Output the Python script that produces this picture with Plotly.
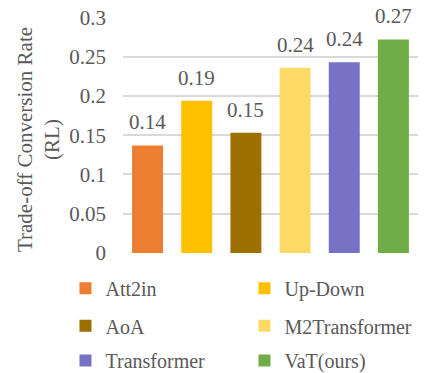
import plotly.graph_objects as go

# Trade-off conversion rate (RL) per captioning model
models = ["Att2in", "Up-Down", "AoA", "M2Transformer", "Transformer", "VaT(ours)"]
rates = [0.137, 0.194, 0.153, 0.236, 0.243, 0.272]
colors = ["#ED7D31", "#FFC000", "#9C7000", "#FFD966", "#7872C6", "#70AD47"]
y_ticks = [0, 0.05, 0.1, 0.15, 0.2, 0.25, 0.3]

FONT = "Liberation Serif"
GREY = "#595959"
FS = 21

# legend rows: two entries per row, three rows below the plot
legend_names = ["legend", "legend2", "legend3"]
legend_rows_y = [-0.149, -0.308, -0.455]

fig = go.Figure()
for i, (m, v, c) in enumerate(zip(models, rates, colors)):
    fig.add_trace(go.Bar(
        x=[m], y=[v], name=m,
        marker=dict(color=c, line=dict(width=0)),
        width=0.63,
        legend=legend_names[i // 2],
        hoverinfo="skip",
    ))
    fig.add_annotation(
        x=m, y=v, text=f"{v:.2f}", showarrow=False,
        xanchor="center", yanchor="bottom", yshift=9,
        font=dict(family=FONT, size=FS, color=GREY),
    )

# rotated two-line axis title
fig.add_annotation(
    xref="paper", yref="paper", x=-0.287, y=0.48,
    text="Trade-off Conversion Rate<br>(RL)", textangle=-90,
    showarrow=False, xanchor="center", yanchor="middle",
    font=dict(family=FONT, size=FS, color=GREY),
)

legend_common = dict(
    orientation="h", xanchor="left", yanchor="middle",
    x=-0.195, entrywidth=134, entrywidthmode="pixels",
    font=dict(family=FONT, size=20, color=GREY),
    bgcolor="rgba(0,0,0,0)", itemclick=False, itemdoubleclick=False,
)

fig.update_layout(
    width=430, height=373,
    margin=dict(l=123, r=12, t=17, b=120, autoexpand=False),
    paper_bgcolor="white", plot_bgcolor="white",
    barmode="overlay",
    showlegend=True,
    legend=dict(y=legend_rows_y[0], **legend_common),
    legend2=dict(y=legend_rows_y[1], **legend_common),
    legend3=dict(y=legend_rows_y[2], **legend_common),
    font=dict(family=FONT, size=FS, color=GREY),
    xaxis=dict(
        categoryorder="array", categoryarray=models,
        range=[-0.5, 5.5], showticklabels=False, showgrid=False,
        zeroline=False, showline=False, ticks="",
    ),
    yaxis=dict(
        range=[0, 0.3005], tickvals=y_ticks,
        ticktext=[f"{t:g}" for t in y_ticks],
        showgrid=True, gridcolor="#D9D9D9", gridwidth=1.6,
        zeroline=False, showline=False, ticks="",
        ticklabelstandoff=16,
        tickfont=dict(family=FONT, size=FS, color=GREY),
    ),
)

fig.write_html("out.html")
